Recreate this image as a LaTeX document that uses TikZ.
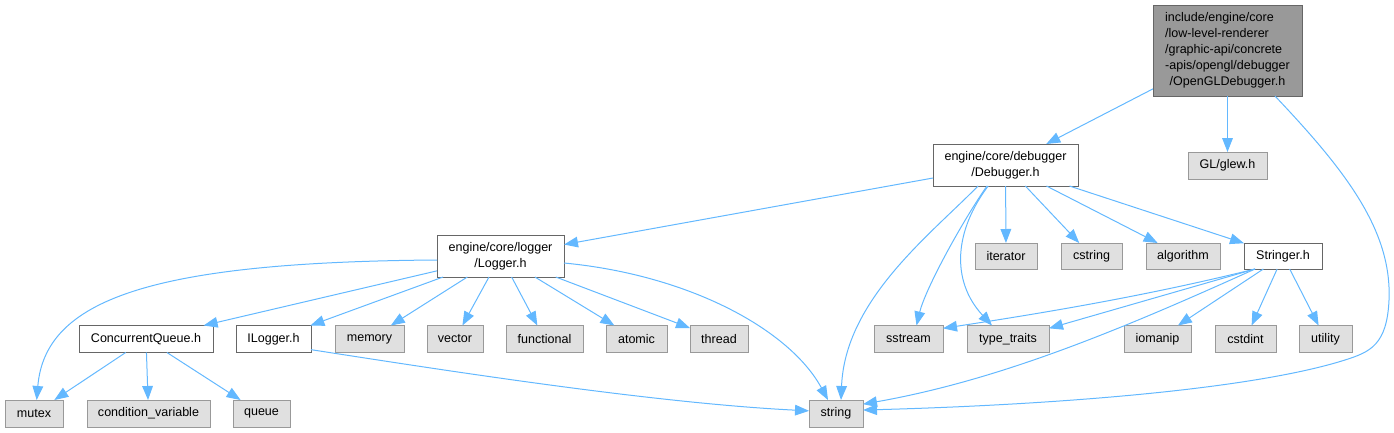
\documentclass[tikz,border=0pt]{standalone}
\usepackage{fontspec}
\setmainfont{Liberation Sans}
\usetikzlibrary{arrows.meta}
\definecolor{edgec}{HTML}{63B8FF}
\definecolor{extf}{HTML}{E0E0E0}
\definecolor{extb}{HTML}{999999}
\definecolor{intb}{HTML}{666666}
\definecolor{topf}{HTML}{999999}
\begin{document}
\begin{tikzpicture}[x=0.75pt,y=-0.75pt,
  every node/.style={font=\fontsize{9.4}{12}\selectfont, inner sep=0pt, outer sep=0pt, text=black, line width=0.75pt},
  bw/.style={minimum width={#1*0.75pt}},
  bh/.style={minimum height={#1*0.75pt}},
  ext/.style={draw=extb, fill=extf},
  int/.style={draw=intb, fill=white},
  topb/.style={draw=intb, fill=topf},
  edge/.style={draw=edgec, line width=0.75pt, -{Triangle[length=10.5pt,width=8pt]}}]
\useasboundingbox (0,0) rectangle (1394,432);
% nodes
\node[topb,bw=149,bh=91] (top) at (1227.5,50.5) {\begin{tabular}{@{}l@{}}include/engine/core\\/low-level-renderer\\/graphic-api/concrete\\-apis/opengl/debugger\\\multicolumn{1}{@{}c@{}}{/OpenGLDebugger.h}\end{tabular}};
\node[ext,bw=79,bh=27] (glew) at (1227.5,165.5) {GL/glew.h};
\node[int,bw=145,bh=42] (debugger) at (1005.5,165) {\begin{tabular}{@{}c@{}}engine/core/debugger\\/Debugger.h\end{tabular}};
\node[int,bw=127,bh=42] (logger) at (500.5,256) {\begin{tabular}{@{}c@{}}engine/core/logger\\/Logger.h\end{tabular}};
\node[ext,bw=62,bh=26] (iterator) at (1006,256) {iterator};
\node[ext,bw=61,bh=26] (cstring) at (1091.5,256) {cstring};
\node[ext,bw=74,bh=26] (algorithm) at (1183,256) {algorithm};
\node[int,bw=78,bh=26] (stringer) at (1283,256) {Stringer.h};
\node[int,bw=134,bh=27] (cq) at (146,339) {ConcurrentQueue.h};
\node[int,bw=75,bh=27] (ilogger) at (273.5,339) {ILogger.h};
\node[ext,bw=69,bh=27] (memory) at (369.5,339) {memory};
\node[ext,bw=56,bh=27] (vector) at (455,339) {vector};
\node[ext,bw=77,bh=27] (functional) at (544.5,339) {functional};
\node[ext,bw=61,bh=27] (atomic) at (636.5,339) {atomic};
\node[ext,bw=58,bh=27] (thread) at (719,339) {thread};
\node[ext,bw=69,bh=27] (sstream) at (908.5,339) {sstream};
\node[ext,bw=82,bh=27] (typetraits) at (1008,339) {type\_traits};
\node[ext,bw=67,bh=27] (iomanip) at (1157.5,339) {iomanip};
\node[ext,bw=61,bh=27] (cstdint) at (1245.5,339) {cstdint};
\node[ext,bw=53,bh=27] (utility) at (1325.5,339) {utility};
\node[ext,bw=58,bh=27] (mutex) at (34,413.5) {mutex};
\node[ext,bw=123,bh=27] (condvar) at (148.5,413.5) {condition\_variable};
\node[ext,bw=57,bh=27] (queue) at (261.5,413.5) {queue};
\node[ext,bw=54,bh=27] (string) at (836,413.5) {string};
% edges from top
\draw[edge] (top) -- (debugger);
\draw[edge] (top) -- (glew);
\draw[edge] ([xshift=35.6pt]top.south) .. controls (1345,170) and (1392,230) .. (1389,300) .. controls (1387,345) and (1370,352) .. (1345,360) .. controls (1250,390) and (1050,405) .. ([yshift=2.6pt]string.east);
% edges from debugger
\draw[edge] (debugger) -- (logger);
\draw[edge] (debugger) -- (iterator);
\draw[edge] (debugger) -- (cstring);
\draw[edge] (debugger) -- (algorithm);
\draw[edge] (debugger) -- (stringer);
\draw[edge] ([xshift=-13.9pt]debugger.south) .. controls (960,225) and (925,290) .. ([xshift=6pt]sstream.north);
\draw[edge] ([xshift=-20.6pt]debugger.south) .. controls (930,235) and (845,300) .. ([xshift=3.75pt]string.north);
\draw[edge] ([xshift=-13pt]debugger.south) .. controls (955,230) and (950,280) .. ([xshift=-12pt]typetraits.north);
% edges from logger
\draw[edge] (logger) -- (cq);
\draw[edge] (logger) -- (ilogger);
\draw[edge] (logger) -- (memory);
\draw[edge] (logger) -- (vector);
\draw[edge] (logger) -- (functional);
\draw[edge] (logger) -- (atomic);
\draw[edge] (logger) -- (thread);
\draw[edge] ([yshift=-3pt]logger.west) .. controls (150,262) and (45,300) .. ([xshift=2pt]mutex.north);
\draw[edge] ([yshift=-5.25pt]logger.east) .. controls (690,275) and (790,330) .. ([xshift=-6pt]string.north);
% edges from ConcurrentQueue
\draw[edge] (cq) -- (mutex);
\draw[edge] (cq) -- (condvar);
\draw[edge] (cq) -- (queue);
% ILogger
\draw[edge] ([yshift=-8pt]ilogger.east) .. controls (430,368) and (650,403) .. ([yshift=2pt]string.west);
% Stringer
\draw[edge] ([xshift=-21pt]stringer.south) .. controls (1150,295) and (1050,312) .. ([yshift=8pt]sstream.east);
\draw[edge] ([xshift=-21pt]stringer.south) -- ([yshift=8pt]typetraits.east);
\draw[edge] ([xshift=-21pt]stringer.south) .. controls (1120,330) and (1000,380) .. ([yshift=7pt]string.east);
\draw[edge] (stringer) -- (iomanip);
\draw[edge] (stringer) -- (cstdint);
\draw[edge] (stringer) -- (utility);
\end{tikzpicture}
\end{document}
